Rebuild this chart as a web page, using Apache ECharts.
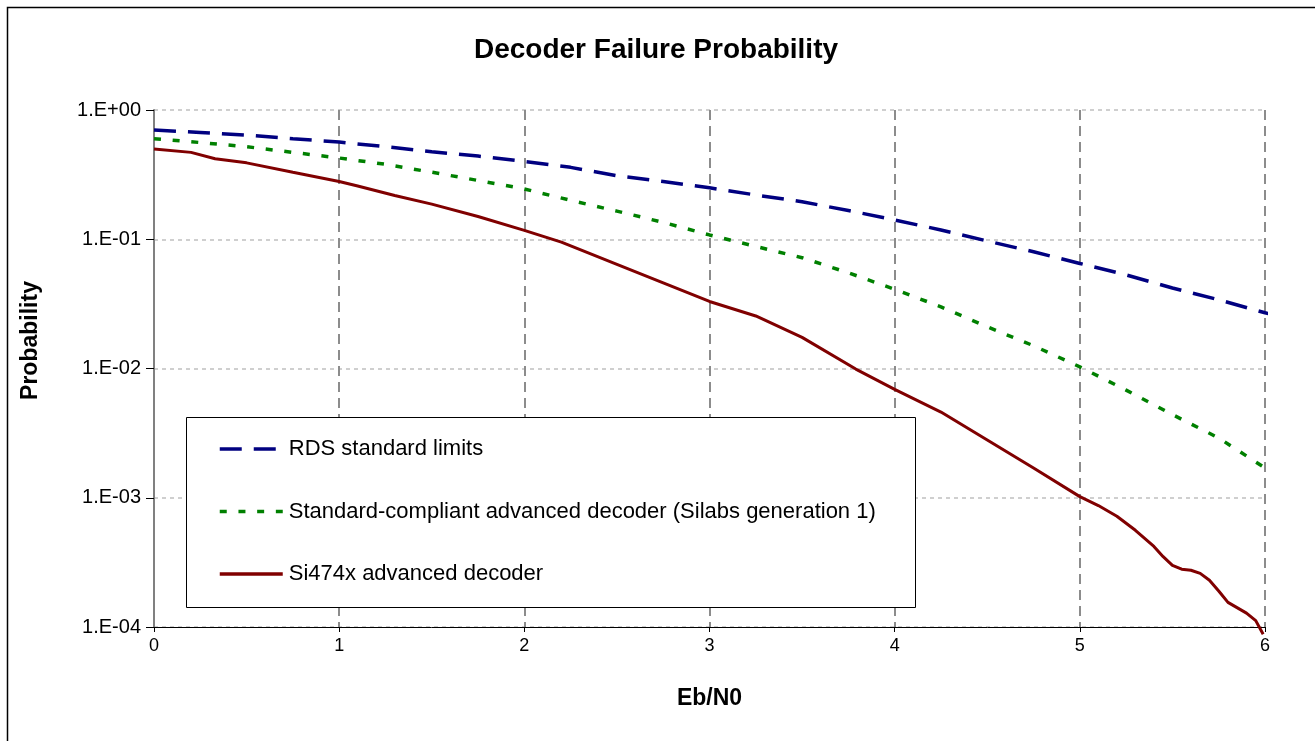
<!DOCTYPE html>
<html>
<head>
<meta charset="utf-8">
<script src="https://cdn.jsdelivr.net/npm/echarts@6/dist/echarts.min.js"></script>
<style>
html,body{margin:0;padding:0;background:#fff;}
#chart{width:1315px;height:741px;}
</style>
</head>
<body>
<div id="chart"></div>
<script>
// ---- data ----
const titleText = 'Decoder Failure Probability';
const xName = 'Eb/N0';
const yName = 'Probability';
const seriesNames = ['RDS standard limits', 'Standard-compliant advanced decoder (Silabs generation 1)', 'Si474x advanced decoder'];
const xTicks = [0, 1, 2, 3, 4, 5, 6];
const yTickLabels = ['1.E-04', '1.E-03', '1.E-02', '1.E-01', '1.E+00'];

const xRds = [0, 0.25, 0.5, 0.75, 1, 1.25, 1.5, 1.75, 2, 2.25, 2.5, 2.75, 3, 3.25, 3.5, 3.75, 4, 4.25, 4.5, 4.75, 5, 5.25, 5.5, 5.75, 6, 6.05];
const yRds = [0.70, 0.67, 0.64, 0.60, 0.565, 0.52, 0.475, 0.44, 0.40, 0.36, 0.31, 0.28, 0.25, 0.22, 0.195, 0.167, 0.141, 0.118, 0.097, 0.080, 0.065, 0.053, 0.042, 0.034, 0.027, 0.026];

const xStd = [0, 0.25, 0.5, 0.75, 1, 1.25, 1.5, 1.75, 2, 2.25, 2.5, 2.75, 3, 3.25, 3.5, 3.75, 4, 4.25, 4.5, 4.75, 5, 5.25, 5.5, 5.75, 6];
const yStd = [0.60, 0.56, 0.52, 0.47, 0.425, 0.38, 0.33, 0.285, 0.245, 0.20, 0.165, 0.135, 0.108, 0.088, 0.072, 0.055, 0.041, 0.030, 0.021, 0.015, 0.0103, 0.0068, 0.0044, 0.0029, 0.0017];

const xSi = [0, 0.2, 0.33, 0.5, 0.75, 1, 1.1, 1.3, 1.5, 1.75, 2, 2.2, 2.5, 2.75, 3, 3.25, 3.5, 3.79, 4, 4.25, 4.5, 4.75, 5, 5.1, 5.2, 5.3, 5.4, 5.45, 5.5, 5.55, 5.6, 5.65, 5.7, 5.75, 5.8, 5.9, 5.95, 5.99];
const ySi = [0.50, 0.47, 0.42, 0.39, 0.33, 0.28, 0.258, 0.218, 0.187, 0.15, 0.117, 0.095, 0.064, 0.046, 0.033, 0.0255, 0.0174, 0.0099, 0.0069, 0.0046, 0.0028, 0.0017, 0.00102, 0.00087, 0.00072, 0.00056, 0.00042, 0.00035, 0.00030, 0.00028, 0.000275, 0.00026, 0.00023, 0.00019, 0.000155, 0.000128, 0.000112, 0.000088];

const pairs = (xs, ys) => xs.map((x, i) => [x, ys[i]]);
const FONT = "'Liberation Sans', Arial, sans-serif";

const chart = echarts.init(document.getElementById('chart'), null, {renderer: 'canvas'});
chart.setOption({
  backgroundColor: '#fff',
  animation: false,
  title: {
    text: titleText, left: 651, top: 31, textAlign: 'center',
    textStyle: {fontFamily: FONT, fontSize: 28, fontWeight: 'bold', color: '#000'}
  },
  graphic: [
    {type: 'rect', shape: {x: 7.5, y: 7.5, width: 1330, height: 760}, style: {fill: 'none', stroke: '#000', lineWidth: 1.5}, silent: true, z: 0},
    {type: 'rect', shape: {x: 186.5, y: 417.5, width: 729, height: 190}, style: {fill: '#fff', stroke: '#000', lineWidth: 1}, silent: true, z: 5}
  ],
  legend: {
    orient: 'vertical', left: 218, top: 438, padding: 0, itemWidth: 63, itemHeight: 14, itemGap: 40.5,
    itemStyle: {opacity: 0},
    lineStyle: {width: 3.5},
    textStyle: {fontFamily: FONT, fontSize: 22, color: '#000', padding: [0, 0, 0, 1]},
    z: 10
  },
  grid: {left: 154, right: 50, top: 110, bottom: 114, containLabel: false},
  xAxis: {
    type: 'value', min: 0, max: 6, interval: 1,
    name: xName, nameLocation: 'middle', nameGap: 60,
    nameTextStyle: {fontFamily: FONT, fontSize: 23, fontWeight: 'bold', color: '#000'},
    axisLine: {show: true, onZero: false, lineStyle: {color: '#000', width: 1}},
    axisTick: {show: true, length: 5, lineStyle: {color: '#000'}},
    axisLabel: {fontFamily: FONT, fontSize: 18, color: '#000', margin: 10,
      formatter: v => xTicks.indexOf(v) >= 0 ? String(v) : ''},
    splitLine: {show: true, lineStyle: {color: '#8c8c8c', width: 2, type: [10, 6]}}
  },
  yAxis: {
    type: 'log', logBase: 10, min: 1e-4, max: 1,
    name: yName, nameLocation: 'middle', nameGap: 112,
    nameTextStyle: {fontFamily: FONT, fontSize: 23, fontWeight: 'bold', color: '#000', padding: [0, 0, 0, 56]},
    axisLine: {show: true, lineStyle: {color: '#808080', width: 2}},
    axisTick: {show: true, length: 8, lineStyle: {color: '#000'}},
    axisLabel: {fontFamily: FONT, fontSize: 20, color: '#000', margin: 13,
      formatter: v => yTickLabels[Math.round(Math.log10(v)) + 4] || ''},
    splitLine: {show: true, lineStyle: {color: '#c0c0c0', width: 1.5, type: [4, 4]}}
  },
  series: [
    {name: seriesNames[0], type: 'line', data: pairs(xRds, yRds), showSymbol: false, symbol: 'none', clip: false, z: 3,
      lineStyle: {color: '#000080', width: 3.5, type: [22, 12]}, itemStyle: {color: '#000080'}},
    {name: seriesNames[1], type: 'line', data: pairs(xStd, yStd), showSymbol: false, symbol: 'none', clip: false, z: 3,
      lineStyle: {color: '#008000', width: 3.5, type: [7, 11.7]}, itemStyle: {color: '#008000'}},
    {name: seriesNames[2], type: 'line', data: pairs(xSi, ySi), showSymbol: false, symbol: 'none', clip: false, z: 3,
      lineStyle: {color: '#800000', width: 3}, itemStyle: {color: '#800000'}}
  ]
});
</script>
</body>
</html>
